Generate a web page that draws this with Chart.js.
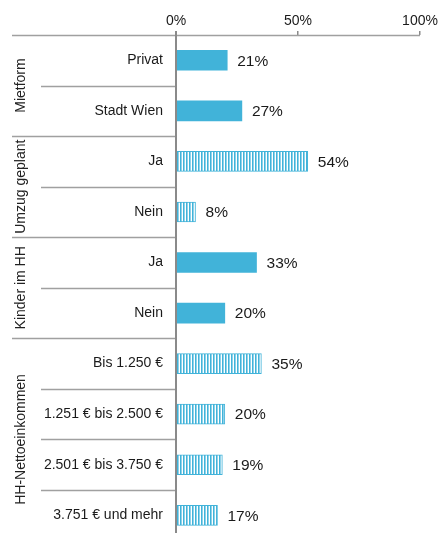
<!DOCTYPE html>
<html>
<head>
<meta charset="utf-8">
<script src="https://cdn.jsdelivr.net/npm/chart.js@4"></script>
<style>
    html, body { margin: 0; padding: 0; background: #fff; overflow: hidden; }
    #wrap { width: 441px; height: 562px; }
</style>
</head>
<body>
<div id="wrap"><canvas id="chart" width="441" height="562"></canvas></div>
<script>
const categories = ['Privat', 'Stadt Wien', 'Ja', 'Nein', 'Ja', 'Nein',
    'Bis 1.250 €', '1.251 € bis 2.500 €', '2.501 € bis 3.750 €', '3.751 € und mehr'];
const values = [21, 27, 54, 8, 33, 20, 35, 20, 19, 17];
const groupNames = ['Mietform', 'Umzug geplant', 'Kinder im HH', 'HH-Nettoeinkommen'];
const groupSizes = [2, 2, 2, 4];
const xTicks = [0, 50, 100];

const blue = '#41b3d9';
const lineGrey = '#a0a0a0';
const axisGrey = '#8a8a8a';
const font = '"Liberation Sans", Arial, Helvetica, sans-serif';

// striped fill for the hatched groups
function makeStripes() {
    const c = document.createElement('canvas');
    c.width = 3; c.height = 4;
    const g = c.getContext('2d');
    g.fillStyle = '#ffffff'; g.fillRect(0, 0, 3, 4);
    g.fillStyle = '#8fd2ea'; g.fillRect(0, 0, 2, 4);
    g.fillStyle = blue; g.fillRect(0, 0, 1, 4);
    return g.createPattern(c, 'repeat');
}
const stripes = makeStripes();

// group index of each row
const rowGroup = [];
groupSizes.forEach((n, gi) => { for (let i = 0; i < n; i++) rowGroup.push(gi); });
const hatched = rowGroup.map(gi => gi === 1 || gi === 3);

const decorPlugin = {
    id: 'decor',
    afterDraw(chart) {
        const ctx = chart.ctx;
        const y = chart.scales.y;
        const x = chart.scales.x;
        const area = chart.chartArea;
        const half = (y.getPixelForValue(1) - y.getPixelForValue(0)) / 2;

        ctx.save();
        // row separators
        ctx.strokeStyle = lineGrey;
        ctx.lineWidth = 1.5;
        let start = 0;
        const groupStarts = [0];
        groupSizes.forEach(n => { start += n; groupStarts.push(start); });
        for (let i = 0; i <= categories.length; i++) {
            const py = Math.round(y.getPixelForValue(i) - half) + 0.5;
            const isGroup = groupStarts.includes(i);
            const x0 = isGroup ? 12 : 41;
            const x1 = i === 0 ? x.getPixelForValue(100) : area.left;
            ctx.beginPath();
            ctx.moveTo(x0, py);
            ctx.lineTo(x1, py);
            ctx.stroke();
        }

        // vertical axis line
        ctx.strokeStyle = axisGrey;
        ctx.lineWidth = 2;
        ctx.beginPath();
        ctx.moveTo(area.left, area.top - 4);
        ctx.lineTo(area.left, chart.height);
        ctx.stroke();

        // group labels (rotated)
        ctx.fillStyle = '#222';
        ctx.font = '14px ' + font;
        ctx.textAlign = 'center';
        ctx.textBaseline = 'middle';
        groupNames.forEach((name, gi) => {
            const a = groupStarts[gi], b = groupStarts[gi + 1] - 1;
            const cy = (y.getPixelForValue(a) + y.getPixelForValue(b)) / 2;
            ctx.save();
            ctx.translate(21, cy);
            ctx.rotate(-Math.PI / 2);
            ctx.fillText(name, 0, 0);
            ctx.restore();
        });

        // value labels
        ctx.font = '15.5px ' + font;
        ctx.textAlign = 'left';
        ctx.fillStyle = '#1a1a1a';
        values.forEach((v, i) => {
            ctx.fillText(v + '%', x.getPixelForValue(v) + 10, y.getPixelForValue(i) + 1);
        });
        ctx.restore();
    }
};

new Chart(document.getElementById('chart'), {
    type: 'bar',
    data: {
        labels: categories,
        datasets: [{
            data: values,
            backgroundColor: hatched.map(h => h ? stripes : blue),
            borderColor: blue,
            borderWidth: hatched.map(h => h ? 1 : 0),
            barThickness: 20,
            borderSkipped: false
        }]
    },
    options: {
        indexAxis: 'y',
        responsive: false,
        animation: false,
        layout: { padding: { left: 0, right: 21, top: 0, bottom: 0 } },
        plugins: {
            legend: { display: false },
            tooltip: { enabled: false }
        },
        scales: {
            x: {
                position: 'top',
                min: 0,
                max: 100,
                afterBuildTicks(scale) {
                    scale.ticks = xTicks.map(v => ({ value: v }));
                },
                afterFit(scale) { scale.height = 35; },
                ticks: {
                    padding: 1,
                    color: '#1a1a1a',
                    font: { family: font, size: 14 },
                    callback: v => v + '%'
                },
                grid: {
                    drawOnChartArea: false,
                    drawTicks: true,
                    tickLength: 4,
                    color: axisGrey,
                    lineWidth: 1.5
                },
                border: { display: false }
            },
            y: {
                afterFit(scale) { scale.width = 176; },
                ticks: {
                    padding: 13,
                    color: '#1a1a1a',
                    font: { family: font, size: 14 }
                },
                grid: { display: false, drawTicks: false },
                border: { display: false }
            }
        }
    },
    plugins: [decorPlugin]
});
</script>
</body>
</html>
